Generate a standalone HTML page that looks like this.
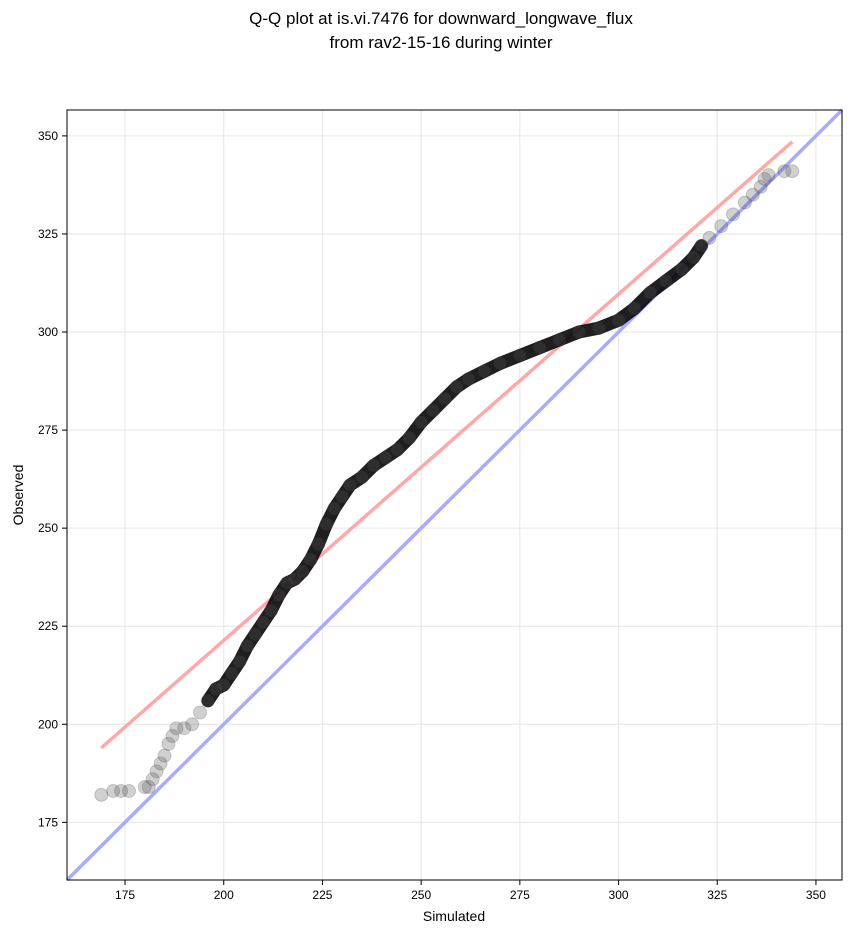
<!DOCTYPE html>
<html><head><meta charset="utf-8"><style>
body{margin:0;background:#fff;width:851px;height:934px;overflow:hidden;font-family:"Liberation Sans",sans-serif}
</style></head><body>
<svg id="chart" width="851" height="934" xmlns="http://www.w3.org/2000/svg" font-family="Liberation Sans, sans-serif">
<text x="441" y="24" font-size="17" text-anchor="middle">Q-Q plot at is.vi.7476 for downward_longwave_flux</text>
<text x="441" y="48" font-size="17" text-anchor="middle">from rav2-15-16 during winter</text>
<g id="grid"></g>
<g id="lines"></g>
<g id="marks"></g>
<rect x="67" y="110" width="775" height="770" fill="none" stroke="#000" stroke-width="1"/>
<g id="ticks"></g>
<text x="454" y="921" font-size="14" text-anchor="middle">Simulated</text>
<text x="23" y="495" font-size="14" text-anchor="middle" transform="rotate(-90 23 495)">Observed</text>
</svg>
<script>
const sim=[169,172,174,176,180,181,182,183,184,185,186,187,188,190,192,194,196,198,200,202,204,206,208,210,212,214,216,218,220,222,224,226,228,230,232,235,238,241,244,247,250,253,256,259,262,266,270,275,280,285,290,295,300,304,308,312,316,319,321,323,326,329,332,334,336,337,338,342,344];
const obs=[182,183,183,183,184,184,186,188,190,192,195,197,199,199,200,203,206,209,210,213,216,220,223,226,229,233,236,237,239,242,246,251,255,258,261,263,266,268,270,273,277,280,283,286,288,290,292,294,296,298,300,301,303,306,310,313,316,319,322,324,327,330,333,335,337,339,340,341,341];
const ticks=[175,200,225,250,275,300,325,350];
const redLineX=[169,344];
const redLineY=[194,348.5];
const lo=160.3,hi=356.6;
const X=v=>67+(v-lo)/(hi-lo)*775;
const Y=v=>880-(v-lo)/(hi-lo)*770;
const NS="http://www.w3.org/2000/svg";
function mk(tag,attrs,parent){const e=document.createElementNS(NS,tag);for(const k in attrs)e.setAttribute(k,attrs[k]);document.getElementById(parent).appendChild(e);return e;}
ticks.forEach(t=>{
  let g=mk('line',{x1:X(t),x2:X(t),y1:110,y2:880,stroke:'#e6e6e6','stroke-width':1},'grid');
  
  
  g=mk('line',{x1:67,x2:842,y1:Y(t),y2:Y(t),stroke:'#e6e6e6','stroke-width':1},'grid');
  
  
  let tk=mk('line',{x1:X(t),x2:X(t),y1:880,y2:885,stroke:'#000'},'ticks');
  
  
  let tx=mk('text',{x:X(t),y:899,'font-size':12,'text-anchor':'middle'},'ticks');tx.textContent=t;
  
  
  tk=mk('line',{x1:62,x2:67,y1:Y(t),y2:Y(t),stroke:'#000'},'ticks');
  
  
  tx=mk('text',{x:58,y:Y(t)+4,'font-size':12,'text-anchor':'end'},'ticks');tx.textContent=t;
  
  
});
let bl=mk('line',{x1:X(lo),y1:Y(lo),x2:X(hi),y2:Y(hi),stroke:'#aaaaff','stroke-width':3.5},'lines');


let rl=mk('line',{x1:X(redLineX[0]),y1:Y(redLineY[0]),x2:X(redLineX[1]),y2:Y(redLineY[1]),stroke:'#ff9999','stroke-width':3.5,'stroke-opacity':0.85},'lines');


const dense=[];
sim.forEach((s,i)=>{if(s>=196&&s<=322)dense.push(X(s)+','+Y(obs[i]));});
let pl=mk('polyline',{points:dense.join(' '),fill:'none',stroke:'#000','stroke-width':13,'stroke-linecap':'round','stroke-linejoin':'round','stroke-opacity':0.88},'marks');


sim.forEach((s,i)=>{
  const c=mk('circle',{cx:X(s),cy:Y(obs[i]),r:6.5,fill:'#555','fill-opacity':0.28,stroke:'#222','stroke-opacity':0.2},'marks');
  
  
});
</script>
</body></html>
